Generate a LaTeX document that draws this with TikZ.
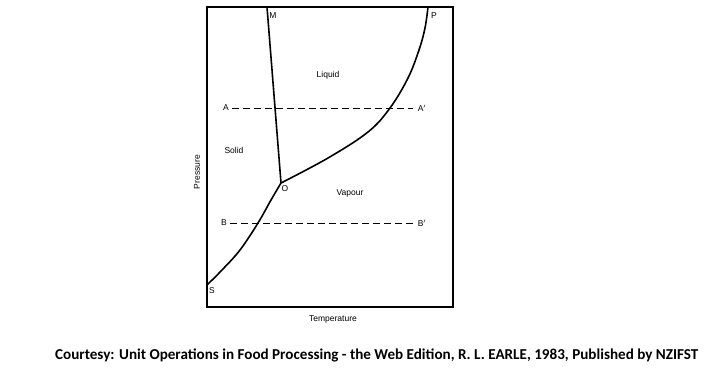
\documentclass[tikz,border=0pt]{standalone}
\usepackage{fontspec}
\setmainfont{Liberation Sans}
\newfontfamily\capfont{Carlito}
\begin{document}
\begin{tikzpicture}[x=1pt,y=-1pt,
  lbl/.style={font=\fontsize{8.5}{9}\selectfont, inner sep=0pt},
  curve/.style={line width=1.6pt},
  frame/.style={line width=1.2pt},
  isobar/.style={line width=0.7pt, dash pattern=on 7pt off 4pt}]
\useasboundingbox (0,0) rectangle (706,389);
\draw[frame] (207,7) rectangle (453,307);
\coordinate (M) at (267,7);
\coordinate (O) at (281,183);
\coordinate (P) at (428,7);
\coordinate (S) at (207,285);
\draw[curve] (M) -- (O);
\draw[curve] plot[smooth, tension=0.6] coordinates {(O) (328,158) (368,132) (390,108) (408,78) (419,50) (425,28) (P)};
\draw[curve] plot[smooth, tension=0.6] coordinates {(O) (271,200) (258,223) (240,250) (222,270) (S)};
\node[lbl] (Ml) at (273,16) {M};
\node[lbl] (Pl) at (434,16) {P};
\node[lbl] (Sl) at (212,291) {S};
\node[lbl] (Ol) at (285,189) {O};
\node[lbl] (A) at (226,108) {A};
\node[lbl] (Ap) at (422,108) {A$'$};
\node[lbl] (B) at (224,223) {B};
\node[lbl] (Bp) at (422,223) {B$'$};
\draw[isobar] (A.east) ++(3,0) coordinate (a1) -- (Ap.west -| 413,0) coordinate (a2);
\draw[isobar] (B.east) ++(3,0) coordinate (b1) -- (Bp.west -| 413,0) coordinate (b2);
\node[lbl] (liq) at (328,75) {Liquid};
\node[lbl] (sol) at (234,150) {Solid};
\node[lbl] (vap) at (350,193) {Vapour};
\node[lbl, rotate=90] (pr) at (197,172) {Pressure};
\node[lbl] (te) at (333,319) {Temperature};
\node[inner sep=0pt, anchor=west] (cap) at (55,355) {\resizebox{643pt}{!}{\capfont\bfseries\fontsize{14}{15}\selectfont Courtesy: Unit Operations in Food Processing - the Web Edition, R. L. EARLE, 1983, Published by NZIFST}};
\end{tikzpicture}
\end{document}
